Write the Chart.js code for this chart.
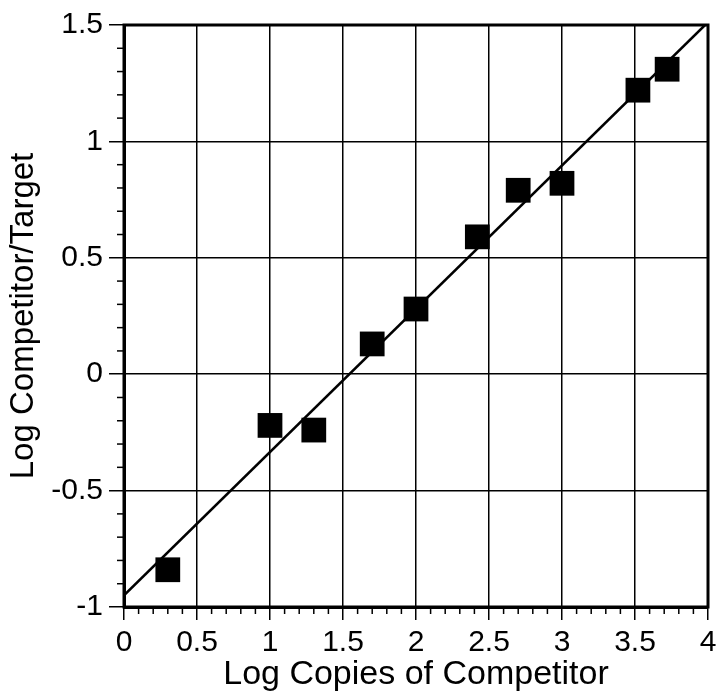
<!DOCTYPE html>
<html>
<head>
<meta charset="utf-8">
<script src="https://cdn.jsdelivr.net/npm/chart.js@4/dist/chart.umd.min.js"></script>
<style>
  html, body { margin: 0; padding: 0; background: #fff; }
  #wrap { width: 719px; height: 698px; }
</style>
</head>
<body>
<div id="wrap"><canvas id="c" width="719" height="698"></canvas></div>
<script>
// Log copies of competitor (x) vs. log competitor/target ratio (y)
const logCopies = [0.3, 1.0, 1.3, 1.7, 2.0, 2.42, 2.7, 3.0, 3.52, 3.72];
const logRatio  = [-0.84, -0.22, -0.24, 0.13, 0.28, 0.59, 0.79, 0.82, 1.22, 1.31];

// Endpoints of the fitted regression line
const fitX = [0, 3.98];
const fitY = [-0.95, 1.5];

const xTitle = 'Log Copies of Competitor';
const yTitle = 'Log Competitor/Target';

const FONT = "'Liberation Sans', Arial, Helvetica, sans-serif";

// Short minor tick marks every 0.1 along both axes, outside the frame
const minorTicks = {
  id: 'minorTicks',
  afterDraw(chart) {
    const ctx = chart.ctx;
    const xs = chart.scales.x, ys = chart.scales.y;
    const area = chart.chartArea;
    ctx.save();
    ctx.strokeStyle = '#000';
    ctx.lineWidth = 1.5;
    for (let i = 0; i <= 40; i++) {
      if (i % 5 === 0) continue;
      const px = xs.getPixelForValue(i / 10);
      ctx.beginPath();
      ctx.moveTo(px, area.bottom);
      ctx.lineTo(px, area.bottom + 7);
      ctx.stroke();
    }
    for (let i = -10; i <= 15; i++) {
      if (i % 5 === 0) continue;
      const py = ys.getPixelForValue(i / 10);
      ctx.beginPath();
      ctx.moveTo(area.left, py);
      ctx.lineTo(area.left - 7, py);
      ctx.stroke();
    }
    ctx.restore();
  }
};

new Chart(document.getElementById('c'), {
  type: 'scatter',
  data: {
    datasets: [
      {
        type: 'line',
        data: fitX.map((x, i) => ({ x, y: fitY[i] })),
        borderColor: '#000',
        borderWidth: 2.5,
        pointRadius: 0,
        fill: false,
        order: 2
      },
      {
        data: logCopies.map((x, i) => ({ x, y: logRatio[i] })),
        pointStyle: 'rect',
        pointRadius: 17.5,
        backgroundColor: '#000',
        borderColor: '#000',
        borderWidth: 0,
        order: 1
      }
    ]
  },
  options: {
    responsive: false,
    animation: false,
    events: [],
    layout: { autoPadding: false, padding: { top: 25, right: 11, left: 0, bottom: 0 } },
    plugins: { legend: { display: false }, tooltip: { enabled: false } },
    scales: {
      x: {
        type: 'linear',
        min: 0, max: 4,
        ticks: { stepSize: 0.5, color: '#000', font: { family: FONT, size: 30 }, padding: 5,
                  callback: v => String(v) },
        grid: { color: '#000', lineWidth: 1.5, tickLength: 13, tickWidth: 1.5, tickColor: '#000' },
        border: { color: '#000', width: 3 },
        title: { display: true, text: xTitle, color: '#000', font: { family: FONT, size: 34 }, padding: { top: 0, bottom: 3 } },
        afterFit(s) { s.height = 91; s.paddingRight = 0; s.paddingLeft = 0; }
      },
      y: {
        type: 'linear',
        min: -1, max: 1.5,
        ticks: { stepSize: 0.5, color: '#000', font: { family: FONT, size: 30 }, padding: 6,
                  callback: v => String(v) },
        grid: { color: '#000', lineWidth: 1.5, tickLength: 15, tickWidth: 1.5, tickColor: '#000' },
        border: { color: '#000', width: 3 },
        title: { display: true, text: yTitle, color: '#000', font: { family: FONT, size: 33 }, padding: { top: 4, bottom: 0 } },
        afterFit(s) { s.width = 124; s.paddingTop = 0; s.paddingBottom = 0; }
      }
    }
  },
  plugins: [minorTicks, {
    id: 'frame',
    afterDraw(chart) {
      const { ctx, chartArea: a } = chart;
      ctx.save();
      ctx.strokeStyle = '#000';
      ctx.lineWidth = 3;
      ctx.strokeRect(a.left, a.top, a.right - a.left, a.bottom - a.top);
      ctx.restore();
    }
  }]
});
</script>
</body>
</html>
